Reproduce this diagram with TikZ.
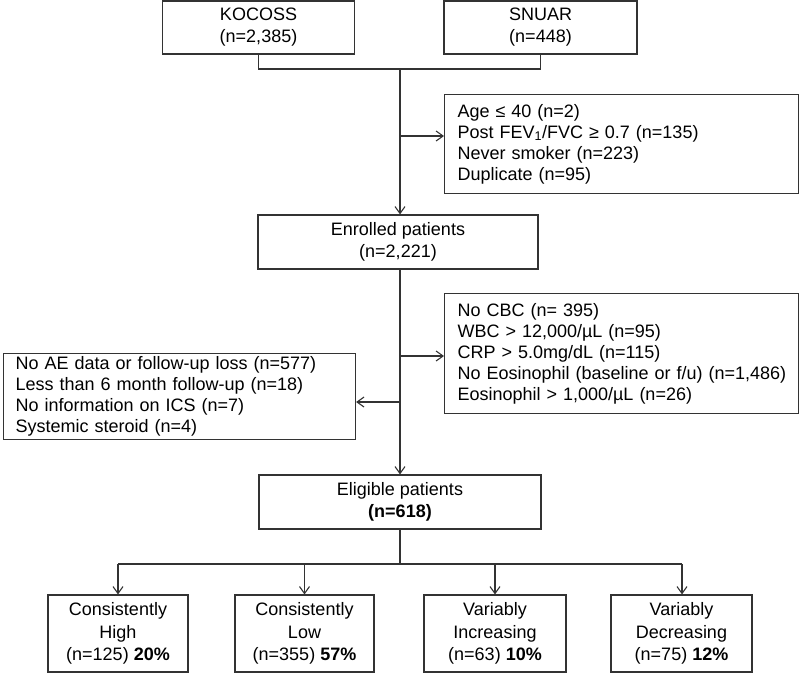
\documentclass[tikz,border=0pt]{standalone}
\usepackage{fontspec}
\setmainfont{Liberation Sans}
\usetikzlibrary{arrows.meta}
\begin{document}
\begin{tikzpicture}[x=1pt,y=-1pt,
  line width=1pt,
  every node/.style={font=\fontsize{18}{21}\selectfont},
  cbox/.style={draw=black!80, line width=1.1pt, align=center, inner sep=0pt, minimum height=#1},
  lbox/.style={draw=black!80, line width=1.1pt, align=left, inner ysep=0pt, inner xsep=13pt, anchor=north west},
  conn/.style={draw=black!80, line width=1.1pt},
  arr/.style={conn, -{Straight Barb[length=7pt,width=10pt]}}]
\useasboundingbox (0,0) rectangle (800,673);
% top sources
\node[cbox=53, minimum width=192, font=\fontsize{18}{22}\selectfont] (kocoss) at (258.5,27.5) {KOCOSS\\(n=2,385)};
\node[cbox=53, minimum width=193, font=\fontsize{18}{22}\selectfont] (snuar) at (540.5,27.5) {SNUAR\\(n=448)};
\coordinate (j1) at (400,69);
\draw[conn] (kocoss.south) |- (j1) -| (snuar.south);
% exclusion 1
\node[lbox, text width=328, minimum height=99] (ex1) at (444,94) {Age ≤ 40 (n=2)\\Post FEV\textsubscript{1}/FVC ≥ 0.7 (n=135)\\Never smoker (n=223)\\Duplicate (n=95)};
% enrolled
\node[cbox=54, minimum width=280, font=\fontsize{18}{22}\selectfont] (enrolled) at (398,242) {Enrolled patients\\(n=2,221)};
\draw[arr] (j1) -- (j1 |- enrolled.north);
\coordinate (a1) at (400,136);
\draw[arr] (a1) -- (a1 -| ex1.west);
% exclusion 2
\node[lbox, text width=328, minimum height=120] (ex2) at (444,293) {No CBC (n= 395)\\WBC > 12,000/µL (n=95)\\CRP > 5.0mg/dL (n=115)\\\mbox{No Eosinophil (baseline or f/u) (n=1,486)}\\Eosinophil > 1,000/µL (n=26)};
% exclusion 3
\node[lbox, inner xsep=12pt, text width=328, minimum height=86] (ex3) at (3,353) {No AE data or follow-up loss (n=577)\\Less than 6 month follow-up (n=18)\\No information on ICS (n=7)\\Systemic steroid (n=4)};
% eligible
\node[cbox=54, minimum width=282, font=\fontsize{18}{22}\selectfont] (eligible) at (400,502) {Eligible patients\\\textbf{(n=618)}};
\coordinate (e0) at (400,269);
\draw[arr] (e0) -- (eligible.north);
\coordinate (a2) at (400,356);
\draw[arr] (a2) -- (a2 -| ex2.west);
\coordinate (a3) at (400,402);
\draw[arr] (a3) -- (a3 -| ex3.east);
% groups
\begin{scope}[every node/.style={font=\fontsize{18}{22.5}\selectfont}]
\node[cbox=77, minimum width=140] (g1) at (118,633.5) {Consistently\\High\\(n=125) \textbf{20\%}};
\node[cbox=77, minimum width=139] (g2) at (304.5,633.5) {Consistently\\Low\\(n=355) \textbf{57\%}};
\node[cbox=77, minimum width=142] (g3) at (495,633.5) {Variably\\Increasing\\(n=63) \textbf{10\%}};
\node[cbox=77, minimum width=141] (g4) at (681.5,633.5) {Variably\\Decreasing\\(n=75) \textbf{12\%}};
\end{scope}
\coordinate (j2) at (400,564);
\draw[conn] (eligible.south) -- (j2);
\coordinate (h1) at (118,564);
\coordinate (h4) at (682,564);
\draw[conn] (h1) -- (h4);
\draw[arr] (h1) -- (g1.north);
\draw[arr] (h1 -| g2.north) -- (g2.north);
\draw[arr] (h1 -| g3.north) -- (g3.north);
\draw[arr] (h4) -- (h4 |- g4.north);
\end{tikzpicture}
\end{document}
